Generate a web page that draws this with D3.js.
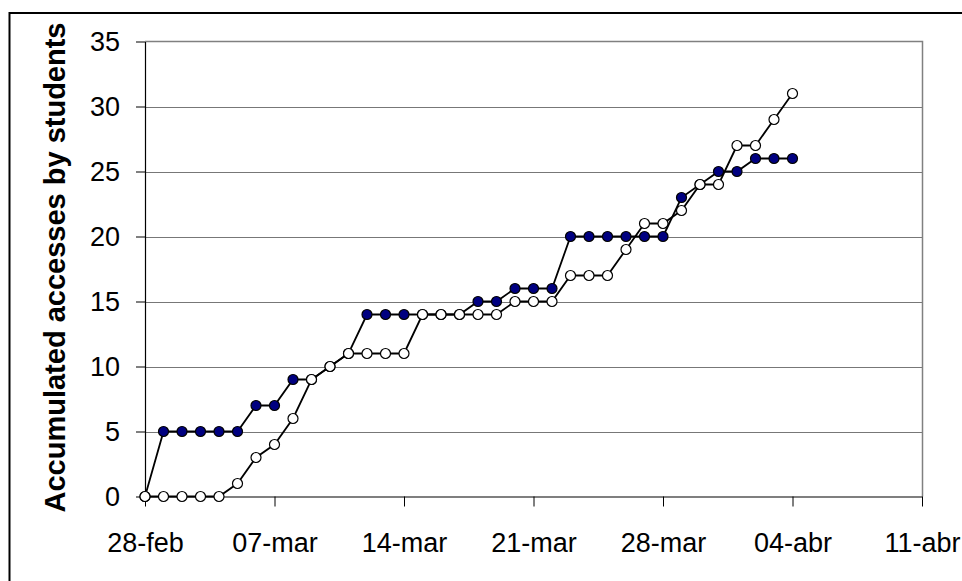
<!DOCTYPE html>
<html lang="es">
<head>
    <meta charset="UTF-8">
    <title>Accumulated accesses by students</title>
    <script src="https://d3js.org/d3.v7.min.js"></script>
    <style>
        body {
            margin: 0;
            background-color: #fff;
        }
        svg {
            display: block;
        }
        .tick-label {
            font-family: "Liberation Sans", Arial, sans-serif;
            font-size: 27px;
            fill: #000;
        }
        .axis-title {
            font-family: "Liberation Sans", Arial, sans-serif;
            font-size: 29px;
            font-weight: bold;
            fill: #000;
        }
    </style>
</head>
<body>
    <div id="chart"></div>

    <script>
        // datos: un punto por día, del 28-feb al 04-abr
        const firstDay = new Date(Date.UTC(2005, 1, 28));
        const lastDay = new Date(Date.UTC(2005, 3, 4));
        const days = d3.utcDay.range(firstDay, d3.utcDay.offset(lastDay, 1));

        const filledSeries = [0, 5, 5, 5, 5, 5, 7, 7, 9, 9, 10, 11, 14, 14, 14, 14, 14, 14,
            15, 15, 16, 16, 16, 20, 20, 20, 20, 20, 20, 23, 24, 25, 25, 26, 26, 26];
        const openSeries = [0, 0, 0, 0, 0, 1, 3, 4, 6, 9, 10, 11, 11, 11, 11, 14, 14, 14,
            14, 14, 15, 15, 15, 17, 17, 17, 19, 21, 21, 22, 24, 24, 27, 27, 29, 31];

        const xTickLabels = ["28-feb", "07-mar", "14-mar", "21-mar", "28-mar", "04-abr", "11-abr"];
        const yTicks = [0, 5, 10, 15, 20, 25, 30, 35];
        const yTitle = "Accumulated accesses by students";

        const width = 962;
        const height = 581;
        const plot = { left: 145, right: 922, top: 41.5, bottom: 496.5 };

        const xTickDates = d3.utcDay.range(firstDay, d3.utcDay.offset(firstDay, 43), 7);

        const x = d3.scaleUtc()
            .domain([firstDay, xTickDates[xTickDates.length - 1]])
            .range([plot.left, plot.right]);
        const y = d3.scaleLinear()
            .domain([0, 35])
            .range([plot.bottom, plot.top]);

        const svg = d3.select("#chart")
            .append("svg")
            .attr("width", width)
            .attr("height", height);

        // marco exterior
        svg.append("rect")
            .attr("x", 9.5)
            .attr("y", 13)
            .attr("width", width + 20)
            .attr("height", height + 20)
            .attr("fill", "none")
            .attr("stroke", "#000")
            .attr("stroke-width", 2);

        // líneas de cuadrícula
        svg.append("g")
            .selectAll("line")
            .data(yTicks.filter(d => d > 0 && d < 35))
            .join("line")
            .attr("x1", plot.left)
            .attr("x2", plot.right)
            .attr("y1", d => Math.round(y(d)) + 0.5)
            .attr("y2", d => Math.round(y(d)) + 0.5)
            .attr("stroke", "#777")
            .attr("stroke-width", 1);

        // borde del área de trazado (arriba y derecha)
        svg.append("path")
            .attr("d", `M${plot.left},${plot.top}H${plot.right + 0.5}V${plot.bottom}`)
            .attr("fill", "none")
            .attr("stroke", "#808080")
            .attr("stroke-width", 1.5);

        // eje Y
        const yAxis = svg.append("g")
            .attr("transform", `translate(${plot.left},0)`)
            .call(d3.axisLeft(y).tickValues(yTicks).tickSize(9).tickPadding(16).tickSizeOuter(0));
        yAxis.select(".domain").attr("stroke", "#000").attr("stroke-width", 1.2);
        yAxis.selectAll(".tick line").attr("stroke", "#000");
        yAxis.selectAll(".tick text")
            .attr("class", "tick-label")
            .attr("font-size", null)
            .attr("font-family", null);

        // eje X
        const xAxis = svg.append("g")
            .attr("transform", `translate(0,${plot.bottom})`)
            .call(d3.axisBottom(x)
                .tickValues(xTickDates)
                .tickFormat((d, i) => xTickLabels[i])
                .tickSize(10)
                .tickPadding(26)
                .tickSizeOuter(0));
        xAxis.select(".domain").attr("stroke", "#000").attr("stroke-width", 1.2);
        xAxis.selectAll(".tick line").attr("stroke", "#000");
        xAxis.selectAll(".tick text")
            .attr("class", "tick-label")
            .attr("font-size", null)
            .attr("font-family", null);

        // título del eje Y
        svg.append("text")
            .attr("class", "axis-title")
            .attr("transform", "translate(65,267.5) rotate(-90)")
            .attr("text-anchor", "middle")
            .text(yTitle);

        const line = d3.line()
            .x(d => x(d.date))
            .y(d => y(d.value));

        function drawSeries(values, fill) {
            const points = values.map((v, i) => ({ date: days[i], value: v }));
            const g = svg.append("g");
            g.append("path")
                .datum(points)
                .attr("d", line)
                .attr("fill", "none")
                .attr("stroke", "#000")
                .attr("stroke-width", 1.8);
            g.selectAll("circle")
                .data(points)
                .join("circle")
                .attr("cx", d => x(d.date))
                .attr("cy", d => y(d.value))
                .attr("r", 5)
                .attr("fill", fill)
                .attr("stroke", "#000")
                .attr("stroke-width", 1.2);
        }

        drawSeries(filledSeries, "#000080");
        drawSeries(openSeries, "#fff");
    </script>
</body>
</html>
